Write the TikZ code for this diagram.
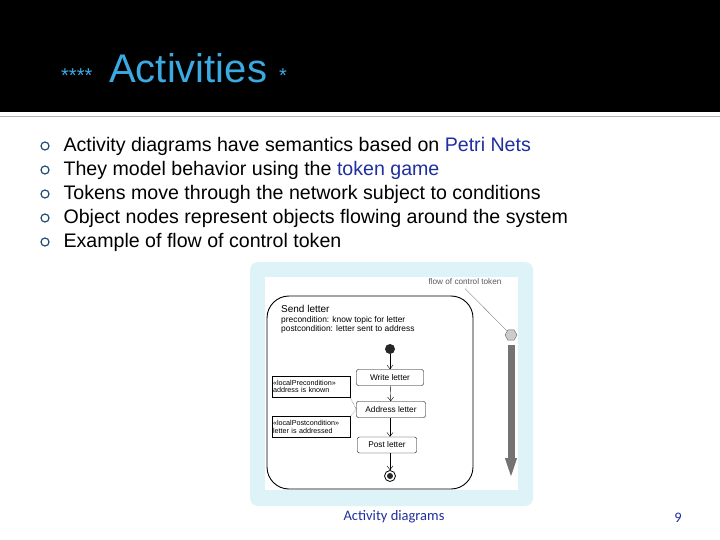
\documentclass[tikz,border=0pt]{standalone}
\usepackage{fontspec}
\setmainfont{Liberation Sans}
\newfontfamily\carl{Carlito}
\usetikzlibrary{shapes.geometric,arrows.meta}
\definecolor{ttl}{HTML}{3BAAE3}
\definecolor{bul}{HTML}{1F4E79}
\definecolor{hl}{HTML}{1F2F9F}
\definecolor{panel}{HTML}{DDF3F7}
\tikzset{
 act/.style={draw,rounded corners=2pt,minimum width=67pt,minimum height=16pt,font=\fontsize{8.3}{9}\selectfont,inner sep=1pt},
 note/.style={draw,align=left,font=\fontsize{7.2}{8.5}\selectfont,inner sep=1pt,minimum width=78pt,text width=76pt,minimum height=21pt},
 flow/.style={-{Straight Barb[length=4pt,width=6pt]},thin},
 bt/.style={anchor=west,font=\fontsize{19.6}{22}\selectfont},
 bdot/.style={circle,draw=bul,line width=1.2pt,minimum size=8pt,inner sep=0pt}
}
\begin{document}
\begin{tikzpicture}[x=1pt,y=-1pt]
\useasboundingbox (0,0) rectangle (720,540);
\fill[white] (0,0) rectangle (720,540);
\fill[black] (0,0) rectangle (720,112);
\draw[gray!60,line width=1pt] (0,117) -- (720,117);
\node[anchor=base west,text=ttl,inner sep=0,font=\fontsize{20}{22}\selectfont] (st1) at (61,83) {****};
\node[anchor=base west,text=ttl,inner sep=0,font=\fontsize{40}{44}\selectfont] (title) at (109,83) {Activities};
\node[anchor=base west,text=ttl,inner sep=0,font=\fontsize{20}{22}\selectfont] (st2) at (279,83) {*};
\foreach \i/\t in {0/{Activity diagrams have semantics based on \textcolor{hl}{Petri Nets}},
 1/{They model behavior using the \textcolor{hl}{token game}},
 2/{Tokens move through the network subject to conditions},
 3/{Object nodes represent objects flowing around the system},
 4/{Example of flow of control token}}{
 \node[bdot] (d\i) at (45,{146+24*\i}) {};
 \node[bt] (b\i) at (60,{146+24*\i}) {\t};
}
% panel
\fill[panel,rounded corners=8pt] (250,262) rectangle (533,506);
\fill[white] (265,277) rectangle (518,490);
\draw[line width=0.9pt,rounded corners=22pt] (267,296) rectangle (473,489);
\node[anchor=north west,align=left,inner sep=0,font=\fontsize{10}{11}\selectfont] (sl) at (281,305) {Send letter\\[-1pt]{\fontsize{8.4}{9.5}\selectfont precondition: know topic for letter}\\[-2pt]{\fontsize{8.4}{9.5}\selectfont postcondition: letter sent to address}};
\node[circle,fill=black!85,minimum size=10pt,inner sep=0] (ini) at (390,349) {};
\node[act] (w) at (390,377.5) {Write letter};
\node[act,minimum width=69pt] (a) at (391,409.5) {Address letter};
\node[act,minimum width=59pt] (p) at (387,445) {Post letter};
\node[circle,draw,line width=0.8pt,minimum size=11pt,inner sep=0] (fin) at (390,476) {};
\node[circle,fill=black!85,minimum size=6pt,inner sep=0] at (fin) {};
\draw[flow] (ini) -- (w);
\draw[flow] (w) -- (a);
\draw[flow] (a.south -| 390,0) -- (p.north -| 390,0);
\draw[flow] (p.south -| 390,0) -- (fin);
\node[note] (n1) at (311,386.5) {«localPrecondition»\\[-1pt]address is known};
\node[note] (n2) at (311,427) {«localPostcondition»\\[-1pt]letter is addressed};
\draw[densely dotted] (n1.south east) -- (a.west);
\draw[densely dotted] (n2.north east) -- (a.west);
\node[font=\fontsize{8.2}{9}\selectfont,text=black!65] (ft) at (465,282) {flow of control token};
\node[regular polygon,regular polygon sides=6,draw=black!60,fill=black!20,minimum size=12pt,inner sep=0] (tok) at (511,335) {};
\draw[black!50] (ft.south) -- (tok);
\coordinate (ae) at (511,480);
\draw[black!55,-{Triangle[length=22pt,width=10pt]},line width=7pt] (511,345) -- (ae);
\node[text=hl,font=\carl\fontsize{14.5}{16}\selectfont] (foot) at (394,517) {Activity diagrams};
\node[text=hl,font=\carl\fontsize{14.5}{16}\selectfont] (pg) at (678,518) {9};
\end{tikzpicture}
\end{document}
